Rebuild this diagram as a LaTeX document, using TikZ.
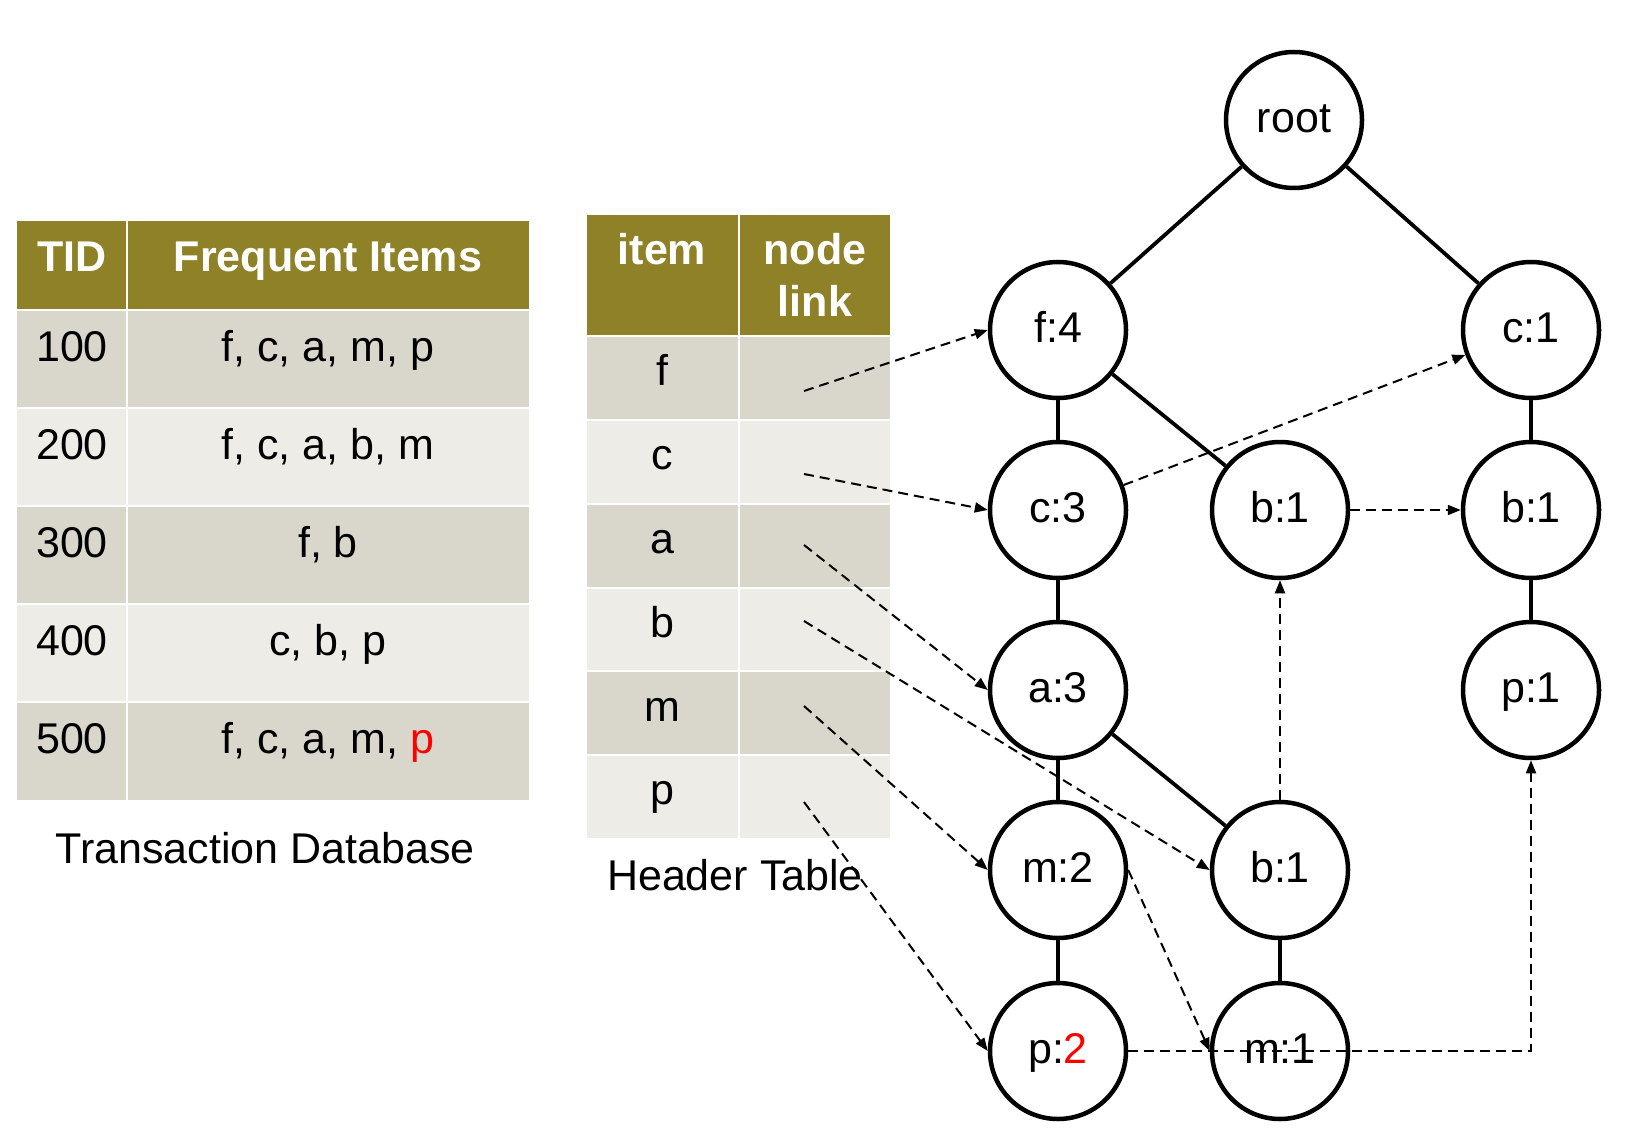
\documentclass[tikz,border=0pt]{standalone}
\usepackage{fontspec}
\setmainfont{Liberation Sans}
\usepackage{tikz}
\usetikzlibrary{arrows.meta}
\definecolor{olive}{RGB}{143,129,39}
\definecolor{rowdark}{RGB}{217,214,203}
\definecolor{rowlight}{RGB}{237,236,231}
\tikzset{
  txt/.style={anchor=base, inner sep=0pt, font=\fontsize{43}{51}\selectfont},
  hd/.style={txt, text=white, font=\fontsize{43}{51}\selectfont\bfseries},
  fp/.style={circle, draw, line width=4.5pt, minimum size=136pt, inner sep=0pt, text height=28pt, text depth=3pt, font=\fontsize{43}{51}\selectfont},
  branch/.style={line width=3.8pt},
  nodelink/.style={line width=2pt, dash pattern=on 10pt off 6pt, -{Triangle[length=13pt,width=10pt]}}
}

\begin{document}
\begin{tikzpicture}
[x=1pt, y=-1pt]
\useasboundingbox (0,0) rectangle (1628,1134);
% transaction database
\fill[olive] (17,221) rectangle (126,309); \fill[olive] (128,221) rectangle (529,309);
\fill[rowdark] (17,311) rectangle (126,407); \fill[rowdark] (128,311) rectangle (529,407);
\fill[rowlight] (17,409) rectangle (126,505); \fill[rowlight] (128,409) rectangle (529,505);
\fill[rowdark] (17,507) rectangle (126,603); \fill[rowdark] (128,507) rectangle (529,603);
\fill[rowlight] (17,605) rectangle (126,701); \fill[rowlight] (128,605) rectangle (529,701);
\fill[rowdark] (17,703) rectangle (126,800); \fill[rowdark] (128,703) rectangle (529,800);
\node[hd] (tid) at (72,271) {TID}; \node[hd] (freq) at (328,271) {Frequent Items};
\node[txt] (t100) at (72,361) {100}; \node[txt] (i100) at (328,361) {f, c, a, m, p};
\node[txt] (t200) at (72,459) {200}; \node[txt] (i200) at (328,459) {f, c, a, b, m};
\node[txt] (t300) at (72,557) {300}; \node[txt] (i300) at (328,557) {f, b};
\node[txt] (t400) at (72,655) {400}; \node[txt] (i400) at (328,655) {c, b, p};
\node[txt] (t500) at (72,753) {500}; \node[txt] (i500) at (328,753) {f, c, a, m, \textcolor{red}{p}};
\node[txt] (dbcap) at (265,863) {Transaction Database};
% header table
\fill[olive] (587,215) rectangle (738,335); \fill[olive] (740,215) rectangle (890,335);
\fill[rowdark] (587,337) rectangle (738,419); \fill[rowdark] (740,337) rectangle (890,419);
\fill[rowlight] (587,421) rectangle (738,503); \fill[rowlight] (740,421) rectangle (890,503);
\fill[rowdark] (587,505) rectangle (738,587); \fill[rowdark] (740,505) rectangle (890,587);
\fill[rowlight] (587,589) rectangle (738,670); \fill[rowlight] (740,589) rectangle (890,670);
\fill[rowdark] (587,672) rectangle (738,754); \fill[rowdark] (740,672) rectangle (890,754);
\fill[rowlight] (587,756) rectangle (738,838); \fill[rowlight] (740,756) rectangle (890,838);
\node[hd] (item) at (662,265) {item}; \node[hd] (hnode) at (815,265) {node}; \node[hd] (hlink) at (815,316) {link};
\node[txt] (hf) at (662,385) {f}; \node[txt] (hc) at (662,469) {c}; \node[txt] (ha) at (662,553) {a};
\node[txt] (hb) at (662,637) {b}; \node[txt] (hm) at (662,721) {m}; \node[txt] (hp) at (662,804) {p};
\node[txt] (htcap) at (735,890) {Header Table};
% fp-tree
\node[fp] (root) at (1294,120) {root};
\node[fp] (f4) at (1058,330) {f:4}; \node[fp] (c1) at (1531,330) {c:1};
\node[fp] (c3) at (1058,510) {c:3}; \node[fp] (b1a) at (1280,510) {b:1}; \node[fp] (b1b) at (1531,510) {b:1};
\node[fp] (a3) at (1058,690) {a:3}; \node[fp] (p1) at (1531,690) {p:1};
\node[fp] (m2) at (1058,870) {m:2}; \node[fp] (b1c) at (1280,870) {b:1};
\node[fp] (p2) at (1058,1051) {p:\textcolor{red}{2}}; \node[fp] (m1) at (1280,1051) {m:1};
\draw[branch] (root)--(f4); \draw[branch] (root)--(c1);
\draw[branch] (f4)--(c3); \draw[branch] (f4)--(b1a); \draw[branch] (c3)--(a3);
\draw[branch] (a3)--(m2); \draw[branch] (a3)--(b1c); \draw[branch] (m2)--(p2); \draw[branch] (b1c)--(m1);
\draw[branch] (c1)--(b1b); \draw[branch] (b1b)--(p1);
% node links
\coordinate (lf) at (804,391); \coordinate (lc) at (804,474); \coordinate (la) at (804,545);
\coordinate (lb) at (804,621); \coordinate (lm) at (804,706); \coordinate (lp) at (804,802);
\draw[nodelink] (lf)--(f4.west); \draw[nodelink] (lc)--(c3.west); \draw[nodelink] (la)--(a3.west);
\draw[nodelink] (lb)--(b1c.west); \draw[nodelink] (lm)--(m2.west); \draw[nodelink] (lp)--(p2.west);
\draw[nodelink] (c3)--(c1); \draw[nodelink] (b1a)--(b1b); \draw[nodelink] (b1c)--(b1a);
\draw[nodelink] (m2.east)--(m1.west); \draw[nodelink] (p2.east) -| (p1.south);
\end{tikzpicture}
\end{document}
